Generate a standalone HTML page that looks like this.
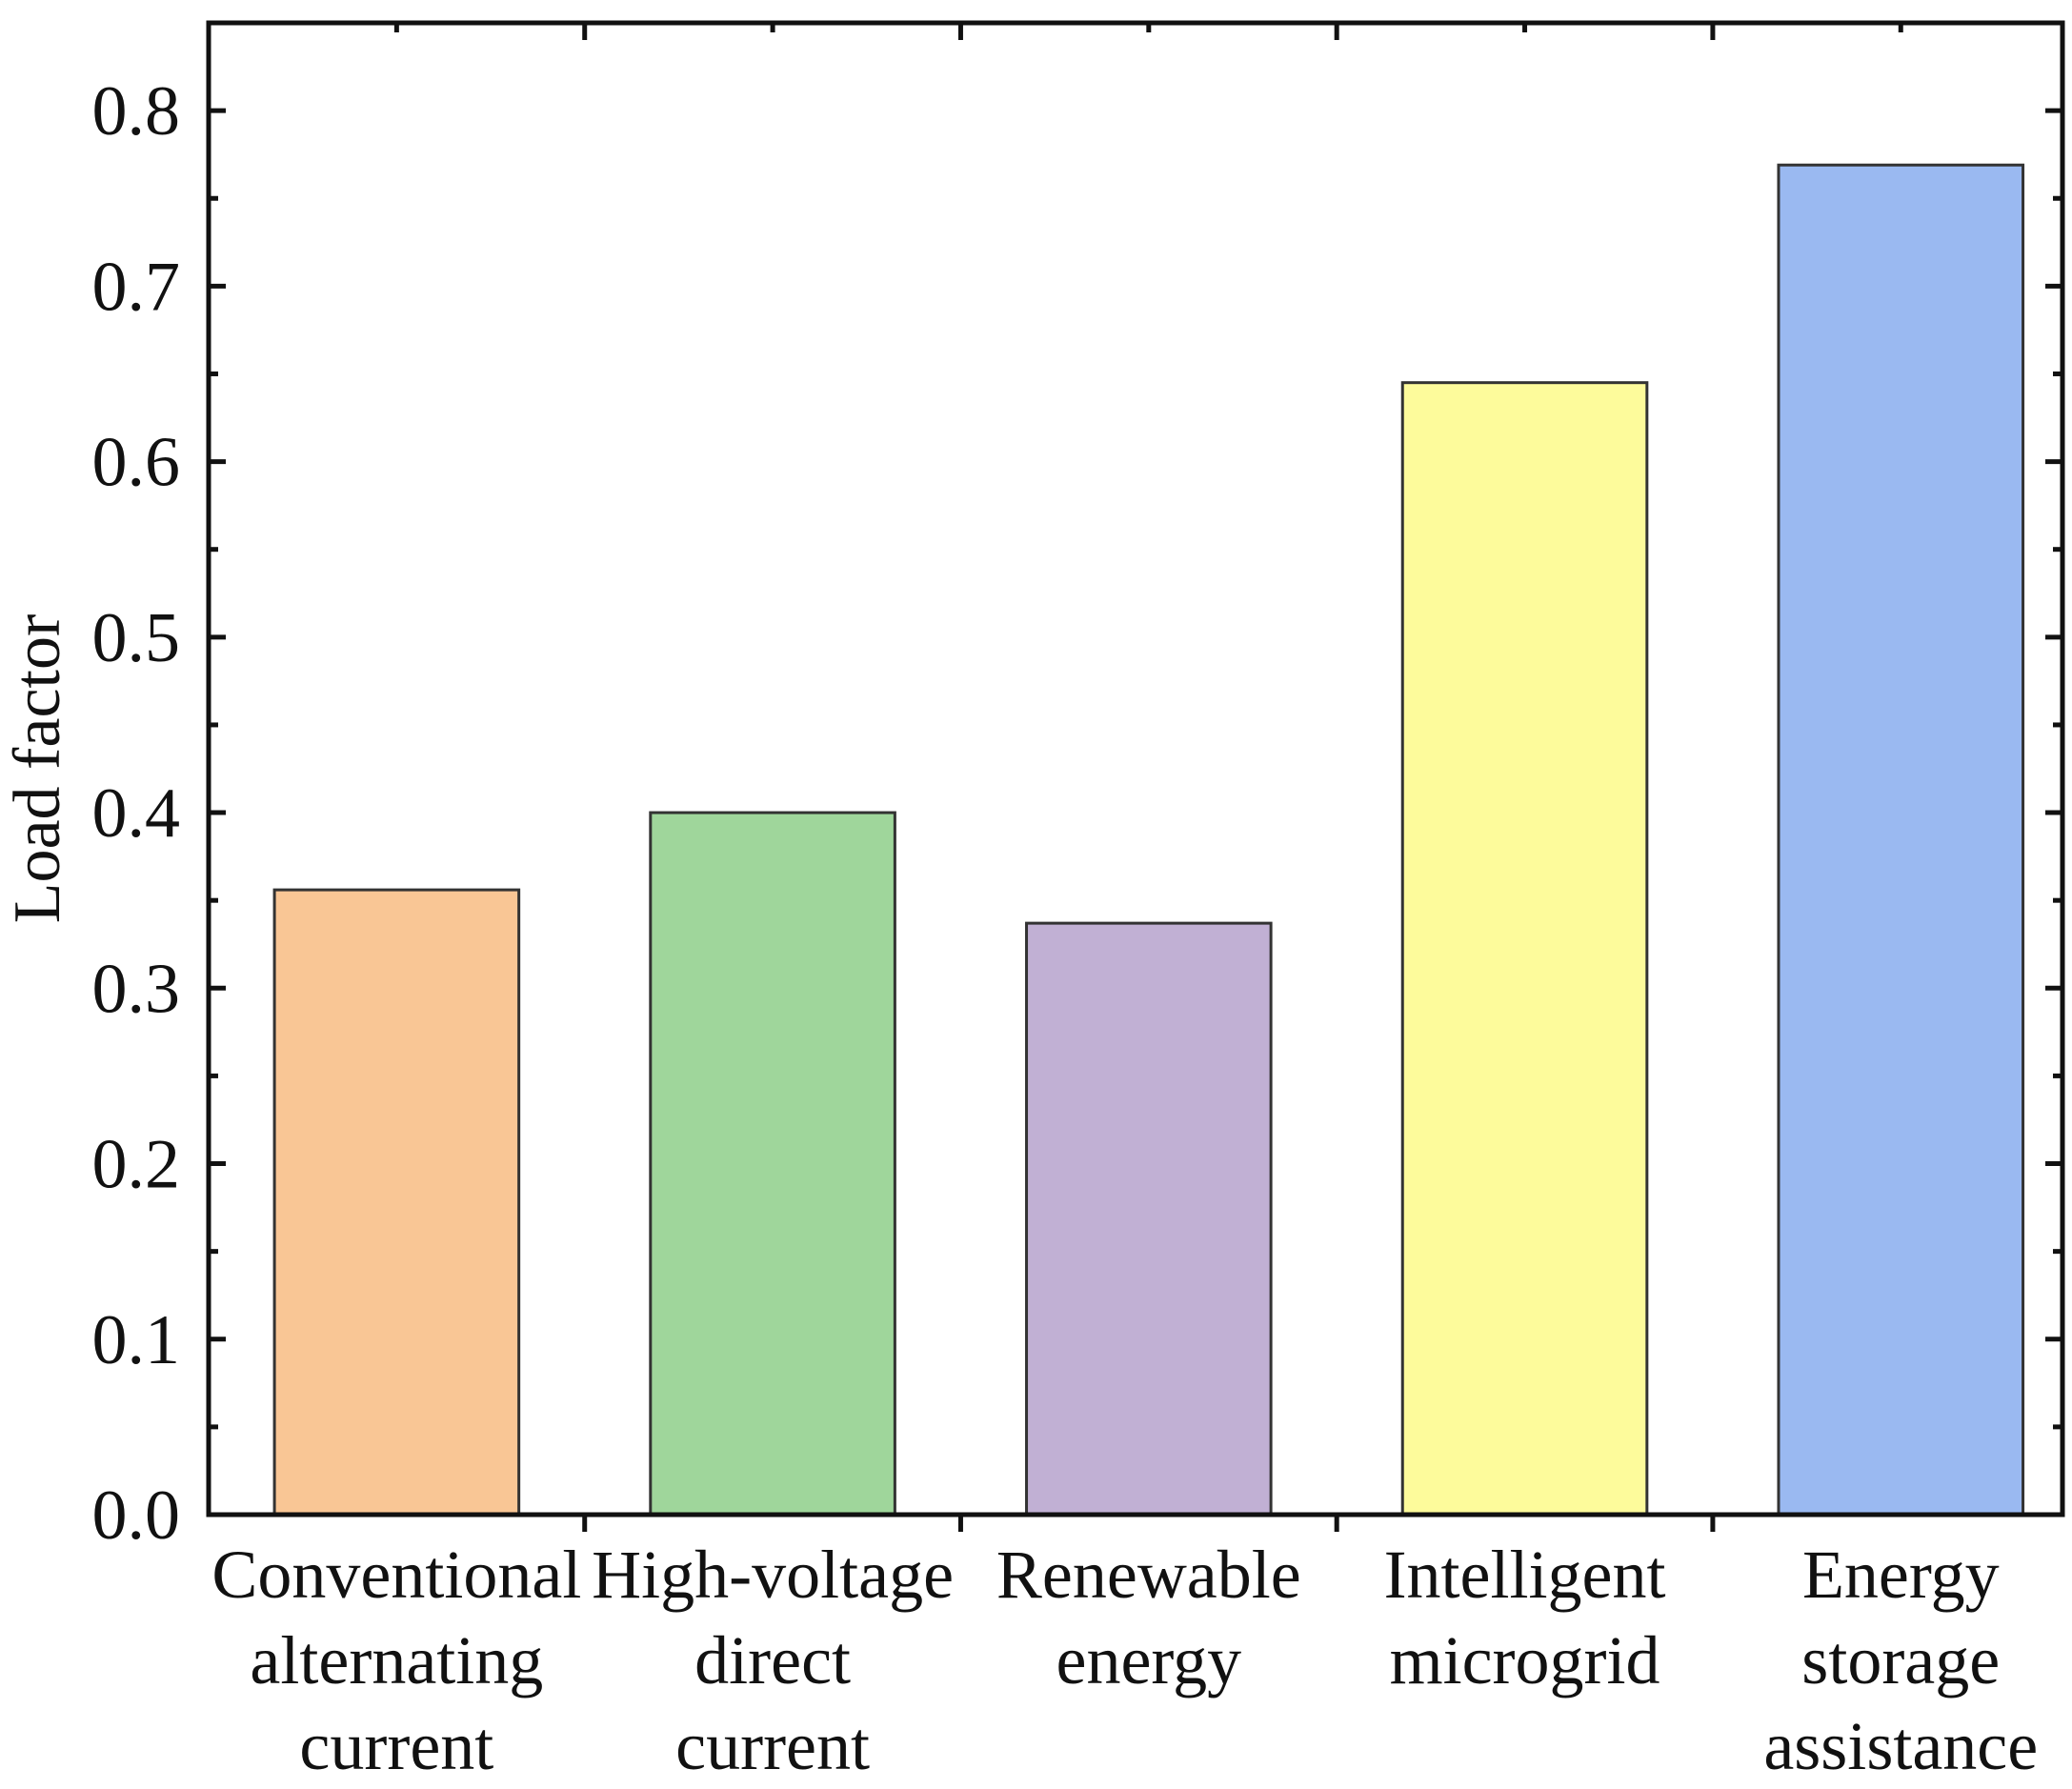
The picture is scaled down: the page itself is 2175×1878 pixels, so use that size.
<!DOCTYPE html>
<html><head><meta charset="utf-8"><style>
body{margin:0;background:#fff}
svg text{font-family:"Liberation Serif",serif;fill:#111}
</style></head><body>
<svg id="c" width="2175" height="1873" xmlns="http://www.w3.org/2000/svg"></svg>
<script>
const categories=[["Conventional","alternating","current"],["High-voltage","direct","current"],["Renewable","energy"],["Intelligent","microgrid"],["Energy","storage","assistance"]];
const values=[0.356,0.400,0.337,0.645,0.769];
const colors=["#f9c695","#9fd69b","#c1b0d4","#fdfb9b","#9ab9f1"];
const yTicks=["0.0","0.1","0.2","0.3","0.4","0.5","0.6","0.7","0.8"];
const L=219,R=2165,T=24,B=1590,xmin=0.5,xmax=5.43,ymax=0.85;
const sx=v=>L+(v-xmin)/(xmax-xmin)*(R-L);
const sy=v=>B-v/ymax*(B-T);
const svg=document.getElementById('c');
const NS="http://www.w3.org/2000/svg";
function mk(tag,attrs,parent){const e=document.createElementNS(NS,tag);for(const k in attrs)e.setAttribute(k,attrs[k]);(parent||svg).appendChild(e);return e;}
const bw=0.65;
values.forEach((v,i)=>{
  const r=mk('rect',{x:sx(i+1-bw/2),y:sy(v),width:sx(i+1+bw/2)-sx(i+1-bw/2),height:B-sy(v),fill:colors[i],stroke:'#333','stroke-width':3});
  
  
});
const frame=mk('rect',{x:L,y:T,width:R-L,height:B-T,fill:'none',stroke:'#111','stroke-width':5});


for(let k=0;k<=17;k++){
  const v=k*0.05,y=sy(v),len=k%2===0?18:10;
  mk('line',{x1:L,x2:L+len,y1:y,y2:y,stroke:'#111','stroke-width':5});
  mk('line',{x1:R,x2:R-len,y1:y,y2:y,stroke:'#111','stroke-width':5});
}
yTicks.forEach((t,i)=>{
  const e=mk('text',{x:189,y:sy(i*0.1)+25,'text-anchor':'end','font-size':74});
  e.textContent=t;
  
  
});
for(let i=1;i<=4;i++){
  const x=sx(i+0.5);
  mk('line',{x1:x,x2:x,y1:B,y2:B+18,stroke:'#111','stroke-width':5});
  mk('line',{x1:x,x2:x,y1:T,y2:T+18,stroke:'#111','stroke-width':5});
}
for(let i=1;i<=5;i++){
  const x=sx(i);
  mk('line',{x1:x,x2:x,y1:T,y2:T+10,stroke:'#111','stroke-width':5});
}
categories.forEach((lines,i)=>{
  lines.forEach((ln,j)=>{
    const e=mk('text',{x:sx(i+1),y:1677+j*90,'text-anchor':'middle','font-size':72});
    e.textContent=ln;
    
    
  });
});
const yt=mk('text',{x:0,y:0,'text-anchor':'middle','font-size':70,transform:'translate(62,807) rotate(-90)'});
yt.textContent='Load factor';


</script>
</body></html>
